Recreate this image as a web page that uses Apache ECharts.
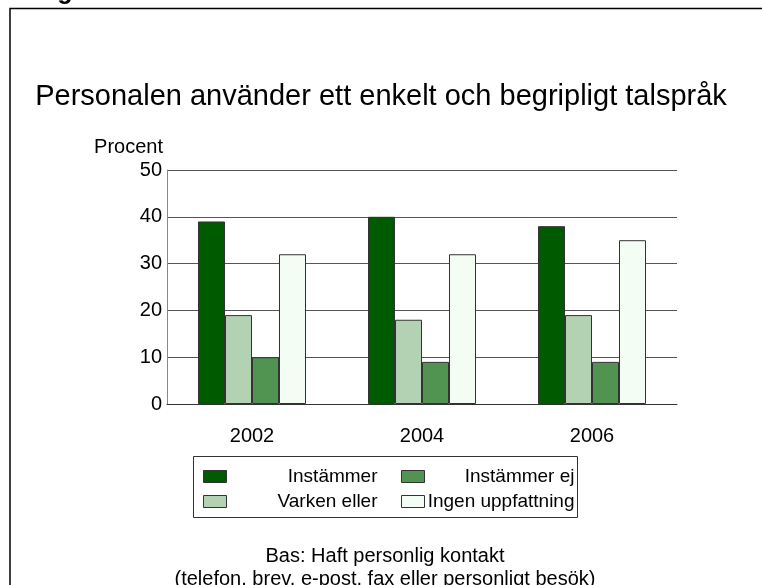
<!DOCTYPE html>
<html>
<head>
<meta charset="utf-8">
<script src="https://cdn.jsdelivr.net/npm/echarts@6/dist/echarts.min.js"></script>
<style>
  html, body { margin: 0; padding: 0; background: #fff; }
  #chart { width: 762px; height: 585px; }
</style>
</head>
<body>
<div id="chart"></div>
<script>
const years = ['2002', '2004', '2006']
const seriesNames = ['Instämmer', 'Varken eller', 'Instämmer ej', 'Ingen uppfattning']
const instammer = [39, 40, 38]
const varkenEller = [19, 18, 19]
const instammerEj = [10, 9, 9]
const ingenUppfattning = [32, 32, 35]
const colors = ['#005a00', '#b3d1b3', '#519351', '#f3fdf3']

const values = [instammer, varkenEller, instammerEj, ingenUppfattning]
const font = '"Liberation Sans", Arial, sans-serif'

const chart = echarts.init(document.getElementById('chart'))

// legend text is right-aligned inside a fixed width, like the original
const legendText = (w) => ({
  fontFamily: font,
  fontSize: 19,
  color: '#000',
  rich: { a: { width: w, align: 'right', fontFamily: font, fontSize: 19, color: '#000' } },
})

chart.setOption({
  animation: false,
  backgroundColor: '#fff',
  textStyle: { fontFamily: font },
  graphic: [
    {
      type: 'polyline',
      shape: { points: [[10, 700], [10, 8.5], [800, 8.5]] },
      style: { stroke: '#000', lineWidth: 1.5, fill: null },
    },
    {
      type: 'text',
      left: 10,
      top: -21,
      style: { text: 'Diagram 14', font: 'bold 26px "Liberation Mono", monospace', fill: '#000' },
    },
    {
      type: 'rect',
      shape: { x: 193.5, y: 456.5, width: 384, height: 61 },
      style: { fill: 'none', stroke: '#333', lineWidth: 1 },
    },
    {
      type: 'text',
      style: {
        x: 385, y: 556,
        text: 'Bas: Haft personlig kontakt',
        font: '20px "Liberation Sans", Arial, sans-serif',
        fill: '#000', align: 'center', verticalAlign: 'middle',
      },
    },
    {
      type: 'text',
      style: {
        x: 385, y: 579,
        text: '(telefon, brev, e-post, fax eller personligt besök)',
        font: '20px "Liberation Sans", Arial, sans-serif',
        fill: '#000', align: 'center', verticalAlign: 'middle',
      },
    },
  ],
  title: {
    text: 'Personalen använder ett enkelt och begripligt talspråk',
    left: 'center',
    top: 77,
    textStyle: { fontFamily: font, fontSize: 29, fontWeight: 'normal', color: '#000' },
  },
  legend: [
    {
      orient: 'vertical',
      left: 203,
      top: 467,
      padding: 0,
      icon: 'rect',
      itemWidth: 23,
      itemHeight: 12,
      itemGap: 6,
      data: ['Instämmer', 'Varken eller'],
      formatter: '{a|{name}}',
      textStyle: legendText(146),
      itemStyle: { borderColor: '#333', borderWidth: 1 },
    },
    {
      orient: 'vertical',
      left: 401,
      top: 467,
      padding: 0,
      icon: 'rect',
      itemWidth: 23,
      itemHeight: 12,
      itemGap: 6,
      data: ['Instämmer ej', 'Ingen uppfattning'],
      formatter: '{a|{name}}',
      textStyle: legendText(145),
      itemStyle: { borderColor: '#333', borderWidth: 1 },
    },
  ],
  grid: { left: 167, right: 85, top: 170, bottom: 181 },
  xAxis: {
    type: 'category',
    data: years,
    axisLine: { lineStyle: { color: '#333' } },
    axisTick: { show: false },
    axisLabel: { color: '#000', fontSize: 20, fontFamily: font, margin: 22 },
  },
  yAxis: {
    type: 'value',
    min: 0,
    max: 50,
    interval: 10,
    name: 'Procent',
    nameLocation: 'end',
    nameGap: 13,
    nameTextStyle: { color: '#000', fontSize: 20, fontFamily: font, align: 'right', padding: [0, 4, 0, 0] },
    axisLine: { show: true, lineStyle: { color: '#888' } },
    axisTick: { show: false },
    axisLabel: { color: '#000', fontSize: 20, fontFamily: font, margin: 5 },
    splitLine: { lineStyle: { color: '#555', width: 1 } },
  },
  series: seriesNames.map((name, i) => ({
    name,
    type: 'bar',
    data: values[i],
    barWidth: 27,
    barGap: '0%',
    itemStyle: { color: colors[i], borderColor: '#333', borderWidth: 1 },
  })),
})
</script>
</body>
</html>
